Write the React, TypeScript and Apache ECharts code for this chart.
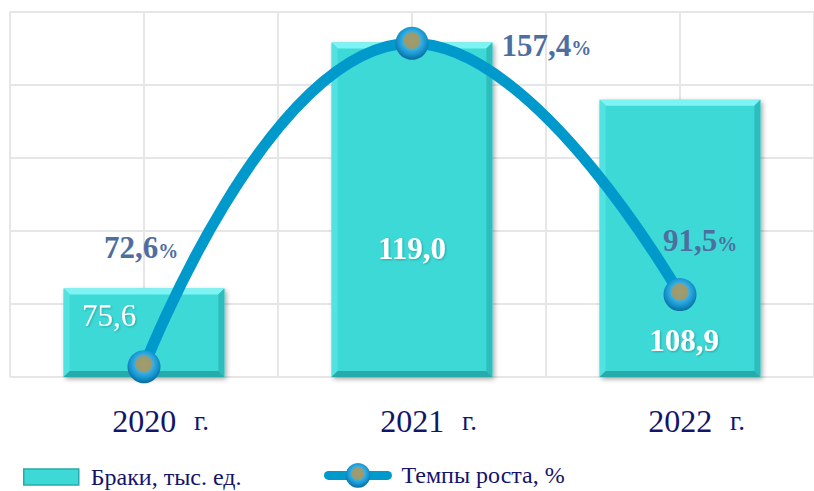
import React, { useEffect, useRef } from "react";
import * as echarts from "echarts";

const categories = ["2020", "2021", "2022"];
const marriages = [75.6, 119.0, 108.9];
const growthRates = [72.6, 157.4, 91.5];
const yearSuffix = "г.";
const barSeriesName = "Браки, тыс. ед.";
const lineSeriesName = "Темпы роста, %";

const BAR_MIN = 60;
const BAR_MAX = 124.4;
const LINE_MIN = 69.9;
const LINE_MAX = 165.6;

const fmt = (v: number) => v.toFixed(1).replace(".", ",");

// label placement (style only)
const barLabelOffsets = [
  [-35, 27],
  [0, 206],
  [4, 241],
];
const barLabelWeights = ["normal", "bold", "bold"];

const SERIF = "'Liberation Serif', 'DejaVu Serif', serif";
const NAVY = "#14146B";
const BAR_COLOR = "#3CD9D7";

export default function App() {
  const ref = useRef<HTMLDivElement>(null);

  useEffect(() => {
    if (!ref.current) return;
    document.body.style.margin = "0";
    const chart = echarts.init(ref.current, null, { renderer: "svg" });

    const sphere = new echarts.graphic.RadialGradient(0.5, 0.42, 0.58, [
      { offset: 0, color: "#A09C6C" },
      { offset: 0.4, color: "#9C9A6E" },
      { offset: 0.47, color: "#39B0E2" },
      { offset: 0.75, color: "#1592CE" },
      { offset: 1, color: "#0A6A9A" },
    ]);

    const renderBar = (params: any, api: any) => {
      const idx = api.value(0);
      const v = api.value(1);
      const top = api.coord([idx, v]);
      const base = api.coord([idx, BAR_MIN]);
      const w = api.size([1, 0])[0] * 0.6;
      const x0 = top[0] - w / 2;
      const x1 = top[0] + w / 2;
      const y0 = top[1];
      const y1 = base[1];
      const b = 6;
      const off = barLabelOffsets[params.dataIndex];
      return {
        type: "group",
        children: [
          {
            type: "rect",
            shape: { x: x0, y: y0, width: w, height: y1 - y0 },
            style: {
              fill: BAR_COLOR,
              shadowBlur: 5,
              shadowColor: "rgba(0,0,0,0.35)",
              shadowOffsetX: 2,
              shadowOffsetY: 2,
            },
          },
          {
            type: "polygon",
            shape: { points: [[x0, y0], [x1, y0], [x1 - b, y0 + b], [x0 + b, y0 + b]] },
            style: { fill: "#7DF3F3" },
          },
          {
            type: "polygon",
            shape: { points: [[x0, y0], [x0 + b, y0 + b], [x0 + b, y1 - b], [x0, y1]] },
            style: { fill: "#52E2E1" },
          },
          {
            type: "polygon",
            shape: { points: [[x1, y0], [x1, y1], [x1 - b, y1 - b], [x1 - b, y0 + b]] },
            style: { fill: "#2DBDBC" },
          },
          {
            type: "polygon",
            shape: { points: [[x0, y1], [x1, y1], [x1 - b, y1 - b], [x0 + b, y1 - b]] },
            style: { fill: "#27ABAA" },
          },
          {
            type: "text",
            style: {
              text: fmt(v),
              x: top[0] + off[0],
              y: y0 + off[1],
              fill: "#FFFFFF",
              font: `${barLabelWeights[params.dataIndex]} 31px ${SERIF}`,
              align: "center",
              verticalAlign: "middle",
              textShadowColor: "rgba(0,0,0,0.25)",
              textShadowBlur: 2,
              textShadowOffsetX: 1,
              textShadowOffsetY: 1,
            },
          },
        ],
      };
    };

    const lineLabel = (pos: string, offset: number[]) => ({
      show: true,
      position: pos,
      offset,
      formatter: (p: any) => `{v|${fmt(p.value)}}{p|%}`,
      rich: {
        v: { fontFamily: SERIF, fontSize: 31, fontWeight: "bold", color: "#4E6E9F" },
        p: { fontFamily: SERIF, fontSize: 20, fontWeight: "bold", color: "#4E6E9F", padding: [6, 0, 0, 0] },
      },
    });
    const lineLabels = [
      lineLabel("top", [-3, -82]),
      lineLabel("right", [68, 2]),
      lineLabel("top", [20, -17]),
    ];

    const legendText = { fontFamily: SERIF, fontSize: 24, color: NAVY };

    chart.setOption({
      animation: false,
      backgroundColor: "#FFFFFF",
      grid: { left: 10, top: 12, width: 810, height: 365, containLabel: false },
      legend: [
        {
          left: 23,
          top: 465,
          padding: 0,
          itemWidth: 55,
          itemHeight: 16,
          textStyle: { ...legendText, padding: [0, 0, 0, 7] },
          data: [
            {
              name: barSeriesName,
              icon: "rect",
              itemStyle: { color: BAR_COLOR, borderColor: "#27ABAA", borderWidth: 1.5 },
            },
          ],
        },
        {
          left: 324,
          top: 463,
          padding: 0,
          itemWidth: 59,
          itemHeight: 31,
          textStyle: { ...legendText, padding: [0, 0, 0, 9] },
          data: [
            {
              name: lineSeriesName,
              lineStyle: { width: 9, color: "#0099CC", cap: "round" },
              itemStyle: { borderWidth: 0 },
            },
          ],
        },
      ],
      xAxis: [
        {
          type: "category",
          data: categories,
          axisLine: { show: false },
          axisTick: { show: false },
          splitLine: { show: false },
          axisLabel: {
            margin: 26,
            formatter: (v: string) => `{y|${v}}{g|${yearSuffix}}`,
            rich: {
              y: { fontFamily: SERIF, fontSize: 32, color: NAVY, padding: [0, 0, 0, 33], lineHeight: 36 },
              g: { fontFamily: SERIF, fontSize: 27, color: NAVY, padding: [4, 0, 0, 18], verticalAlign: "top" },
            },
          },
        },
        {
          type: "value",
          min: 0,
          max: 6,
          interval: 1,
          axisLine: { show: false },
          axisTick: { show: false },
          axisLabel: { show: false },
          splitLine: { show: true, lineStyle: { color: "#E6E6E6", width: 2 } },
        },
      ],
      yAxis: [
        {
          type: "value",
          min: 0,
          max: 5,
          interval: 1,
          axisLine: { show: false },
          axisTick: { show: false },
          axisLabel: { show: false },
          splitLine: { show: true, lineStyle: { color: "#E6E6E6", width: 2 } },
        },
        { type: "value", min: BAR_MIN, max: BAR_MAX, show: false, splitLine: { show: false } },
        { type: "value", min: LINE_MIN, max: LINE_MAX, show: false, splitLine: { show: false } },
      ],
      series: [
        {
          name: barSeriesName,
          type: "custom",
          xAxisIndex: 0,
          yAxisIndex: 1,
          itemStyle: { color: BAR_COLOR },
          encode: { x: 0, y: 1 },
          data: marriages.map((v, i) => [i, v]),
          renderItem: renderBar,
          z: 2,
        },
        {
          name: lineSeriesName,
          type: "line",
          xAxisIndex: 0,
          yAxisIndex: 2,
          smooth: true,
          symbol: "circle",
          symbolSize: 33,
          lineStyle: { color: "#0099CC", width: 11 },
          itemStyle: { color: sphere },
          data: growthRates.map((v, i) => ({ value: v, label: lineLabels[i] })),
          z: 5,
        },
      ],
    });

    return () => chart.dispose();
  }, []);

  return (
    <div
      ref={ref}
      style={{ position: "absolute", left: 0, top: 0, width: 814, height: 491 }}
    />
  );
}
